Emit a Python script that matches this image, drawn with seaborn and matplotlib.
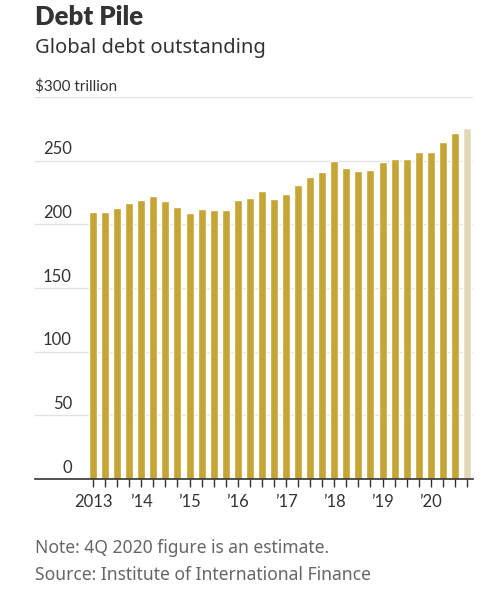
import pandas as pd
import numpy as np
import matplotlib.pyplot as plt
import seaborn as sns

sns.set_theme(style="white")
plt.rcParams['font.family'] = ['Lato', 'DejaVu Sans']

quarters = [f"{q}Q{y}" for y in range(2013, 2021) for q in range(1, 5)]
debt = [210, 210, 213, 217, 219, 222.5, 218, 213.5,
        209, 212, 211, 211, 219, 221, 226, 220,
        224, 230.5, 237.5, 241, 250, 244, 242, 243,
        249, 251, 251, 257, 257, 265, 272, 275.5]
status = ["actual"] * 31 + ["estimate"]
year_labels = ["2013", "\u201914", "\u201915", "\u201916", "\u201917", "\u201918", "\u201919", "\u201920"]
y_ticks = [0, 50, 100, 150, 200, 250, 300]

df = pd.DataFrame({"quarter": quarters, "debt": debt, "status": status})

fig = plt.figure(figsize=(5, 6.01), dpi=100)
ax = fig.add_axes([0.07, 1 - 479 / 601, 0.876, (479 - 97) / 601])

sns.barplot(data=df, x="quarter", y="debt", hue="status", dodge=False,
            palette={"actual": "#c4a535", "estimate": "#e0d9b7"},
            saturation=1, width=0.66, legend=False, ax=ax, zorder=2)

ax.set_xlim(-4.81, 31.5)
ax.set_ylim(0, 300)
ax.set_xlabel("")
ax.set_ylabel("")

for v in y_ticks[1:]:
    ax.axhline(v, color="#e2e2e2", lw=1, zorder=1)
for s in ["top", "left", "right"]:
    ax.spines[s].set_visible(False)
ax.spines["bottom"].set_color("#333333")
ax.spines["bottom"].set_linewidth(1.2)

ax.set_yticks([])
for v in y_ticks:
    if v == 300:
        ax.text(-4.81, v + 2.5, "$300 trillion", ha="left", va="bottom",
                fontsize=11, color="#333333")
    else:
        ax.text(-1.75, v + 2.5, str(v), ha="right", va="bottom",
                fontsize=12, color="#333333")

ax.set_xticks(np.arange(len(quarters)))
ax.set_xticklabels([year_labels[i // 4] if i % 4 == 0 else "" for i in range(len(quarters))],
                   fontsize=12, color="#333333")
ax.tick_params(axis="x", length=6, width=1, color="#333333", pad=5, bottom=True)

fig.text(0.07, 1 - 17 / 601, "Debt Pile", fontsize=18.5, fontweight="heavy",
         color="#333333", va="center", ha="left")
fig.text(0.07, 1 - 48 / 601, "Global debt outstanding", fontsize=14.5,
         color="#333333", va="center", ha="left", family=['Noto Sans', 'DejaVu Sans'],
         fontweight="light")
fig.text(0.07, 1 - 548 / 601, "Note: 4Q 2020 figure is an estimate.", fontsize=12.6,
         color="#666666", va="center", ha="left", family=['Noto Sans', 'DejaVu Sans'])
fig.text(0.07, 1 - 575 / 601, "Source: Institute of International Finance", fontsize=12.6,
         color="#666666", va="center", ha="left", family=['Noto Sans', 'DejaVu Sans'])

fig.savefig("out.png", dpi=100)
